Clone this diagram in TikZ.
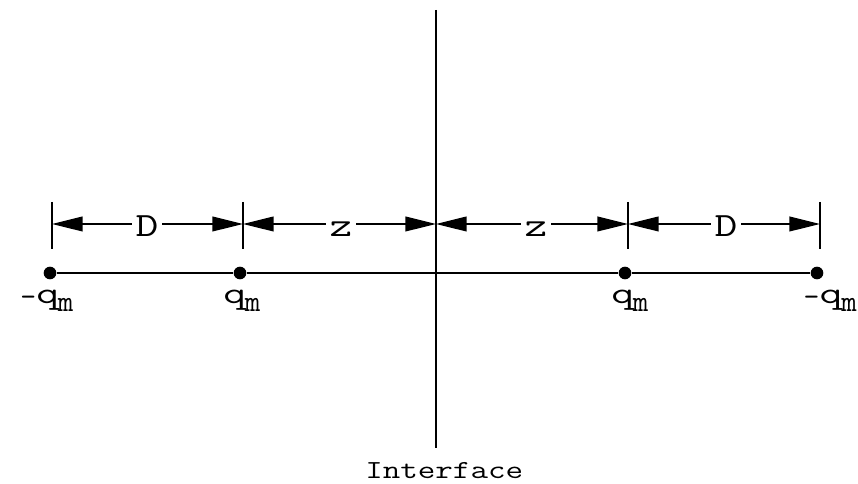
\documentclass[tikz,border=0pt]{standalone}
\usepackage{fontspec}
\usepackage{graphicx}
\usetikzlibrary{arrows.meta}
\newcommand{\wide}[2][1.3]{\scalebox{#1}[1]{#2}}
\newcommand{\qmlab}{\wide[1.45]{q}\kern-1pt\raisebox{-6pt}{\fontsize{22.5}{24}\selectfont m}}
\newcommand{\negq}{\makebox[12pt][l]{\raisebox{-2pt}{-}}\qmlab}
\begin{document}
\begin{tikzpicture}[x=0.75pt,y=-0.75pt,
  ln/.style={line width=1.6pt},
  dot/.style={circle,fill=black,inner sep=0pt,minimum size=9.5pt},
  dim/.style={line width=1.4pt,{Triangle[length=23pt,width=11pt]}-{Triangle[length=23pt,width=11pt]}},
  dlab/.style={fill=white,inner xsep=3pt,inner ysep=1pt,anchor=base,font=\ttfamily\fontsize{25.5}{28}\selectfont},
  qlab/.style={font=\ttfamily\fontsize{23}{25}\selectfont,inner sep=0pt,anchor=base west}]
\useasboundingbox (0,0) rectangle (858,484);
% interface
\coordinate (itop) at (436,10);
\coordinate (ibot) at (436,448);
\draw[ln] (itop) -- (ibot);
\node[inner sep=0pt,anchor=base west,font=\ttfamily\fontsize{19.5}{21}\selectfont] (ilab) at (365,479) {\wide[1.31]{Interface}};
% charges
\node[dot] (c1) at (50,273) {};
\node[dot] (c2) at (240,273) {};
\node[dot] (c3) at (625,273) {};
\node[dot] (c4) at (817,273) {};
\draw[ln] (c1) -- (c2) -- (c3) -- (c4);
\node[qlab] (l1) at (20,304) {\negq};
\node[qlab] (l2) at (223,304) {\qmlab};
\node[qlab] (l3) at (611,304) {\qmlab};
\node[qlab,anchor=base east] (l4) at (857,304) {\negq};
% ticks
\coordinate (t1a) at (52,202); \coordinate (t1b) at (52,249);
\coordinate (t2a) at (243,202); \coordinate (t2b) at (243,249);
\coordinate (t4a) at (628,202); \coordinate (t4b) at (628,249);
\coordinate (t5a) at (820,202); \coordinate (t5b) at (820,249);
\draw[ln] (t1a) -- (t1b) (t2a) -- (t2b) (t4a) -- (t4b) (t5a) -- (t5b);
\coordinate (d1) at (52,224);
\coordinate (d2) at (243,224);
\coordinate (d3) at (436,224);
\coordinate (d4) at (628,224);
\coordinate (d5) at (820,224);
\draw[dim] (d1) -- (d2);
\draw[dim] (d2) -- (d3);
\draw[dim] (d3) -- (d4);
\draw[dim] (d4) -- (d5);
\node[dlab] (nD1) at (147,237) {\wide{D}};
\node[dlab] (nz1) at (341,237) {\wide{z}};
\node[dlab] (nz2) at (536,237) {\wide{z}};
\node[dlab] (nD2) at (726,237) {\wide{D}};
\end{tikzpicture}
\end{document}
